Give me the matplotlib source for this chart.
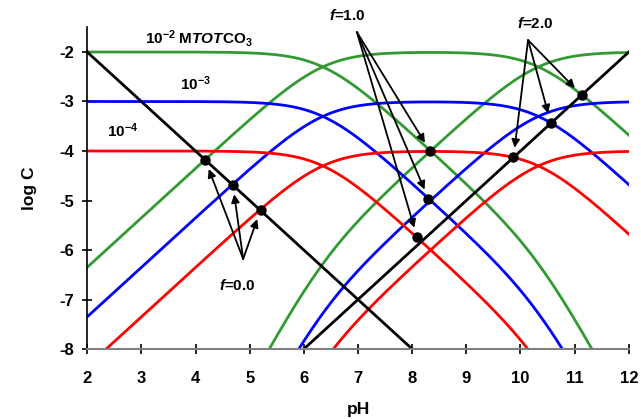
import numpy as np
import matplotlib
matplotlib.use("Agg")
import matplotlib.pyplot as plt

# carbonate system constants
pKa1 = 6.35
pKa2 = 10.33
pKw = 14.0
log_tot = [-2, -3, -4]
colors = ["#339933", "#0000ff", "#ff0000"]

# equivalence points (pH, log C)
f0_pts = [(4.18, -4.18), (4.69, -4.68), (5.20, -5.19)]
f1_pts = [(8.33, -4.00), (8.30, -4.96), (8.09, -5.74)]
f2_pts = [(11.13, -2.87), (10.56, -3.43), (9.87, -4.13)]

plt.rcParams['font.family'] = ['Liberation Sans', 'DejaVu Sans']
plt.rcParams['font.weight'] = 'bold'
plt.rcParams['axes.unicode_minus'] = False
plt.rcParams['mathtext.fontset'] = 'custom'
plt.rcParams['mathtext.rm'] = 'Liberation Sans:bold'
plt.rcParams['mathtext.it'] = 'Liberation Sans:bold:italic'
plt.rcParams['mathtext.bf'] = 'Liberation Sans:bold'

fig = plt.figure(figsize=(6.41, 4.19), dpi=100)
ax = fig.add_axes([0.136, 0.167, 0.845, 0.768])

pH = np.linspace(2, 12, 600)
h = 10.0 ** (-pH)
k1 = 10.0 ** (-pKa1)
k2 = 10.0 ** (-pKa2)
den = h * h + k1 * h + k1 * k2
for lt, c in zip(log_tot, colors):
    ct = 10.0 ** lt
    ax.plot(pH, np.log10(ct * h * h / den), color=c, lw=2)
    ax.plot(pH, np.log10(ct * k1 * h / den), color=c, lw=2)
    ax.plot(pH, np.log10(ct * k1 * k2 / den), color=c, lw=2)

ax.plot(pH, -pH, color="black", lw=2)
ax.plot(pH, pH - pKw, color="black", lw=2)

for pts in (f0_pts, f1_pts, f2_pts):
    xs = [p[0] for p in pts]
    ys = [p[1] for p in pts]
    ax.plot(xs, ys, "o", color="black", ms=6.5, zorder=5)

def arrows(origin, pts):
    for p in pts:
        ax.annotate("", xy=p, xytext=origin,
                    arrowprops=dict(arrowstyle="-|>", color="black", lw=1.3,
                                    mutation_scale=12, shrinkA=0, shrinkB=7))

arrows((4.88, -6.18), f0_pts)
arrows((6.98, -1.60), f1_pts)
arrows((10.14, -1.76), f2_pts)

ax.text(4.77, -6.72, "$f$=0.0", ha="center", va="center", fontsize=11)
ax.text(6.80, -1.27, "$f$=1.0", ha="center", va="center", fontsize=11)
ax.text(10.27, -1.42, "$f$=2.0", ha="center", va="center", fontsize=11)

ax.text(3.07, -1.72, "10$^{-2}$ M$TOT$CO$_3$", ha="left", va="center", fontsize=11)
ax.text(3.72, -2.65, "10$^{-3}$", ha="left", va="center", fontsize=11)
ax.text(2.37, -3.58, "10$^{-4}$", ha="left", va="center", fontsize=11)

ax.set_xlim(2, 12)
ax.set_ylim(-8, -1.5)
ax.set_xticks(range(2, 13))
ax.set_yticks(range(-8, -1))
ax.spines["top"].set_visible(False)
ax.spines["right"].set_visible(False)
ax.spines["bottom"].set_color("#808080")
ax.spines["bottom"].set_linewidth(1.5)
ax.spines["left"].set_linewidth(1.2)
ax.tick_params(direction="inout", length=7, width=1.2, labelsize=12)
ax.tick_params(axis="x", pad=12)
ax.tick_params(axis="y", pad=6)
ax.set_xlabel("pH", fontsize=12.5, fontweight="bold", labelpad=12)
ax.set_ylabel("log C", fontsize=12.5, fontweight="bold", labelpad=16)
for lab in ax.get_xticklabels() + ax.get_yticklabels():
    lab.set_fontweight("bold")

fig.savefig("out.png", dpi=100)
